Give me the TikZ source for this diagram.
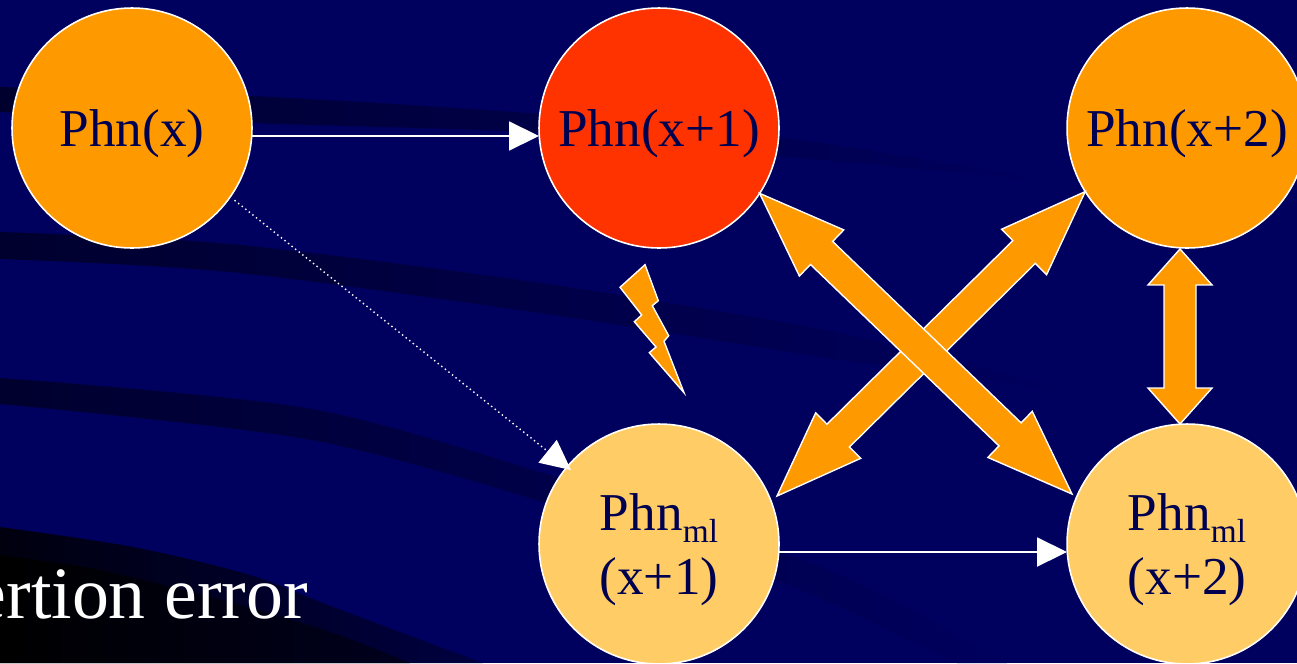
\documentclass[tikz,border=0pt]{standalone}
\usepackage{fontspec}
\setmainfont{Liberation Serif}
\usepackage{xcolor}
\usepackage{tikz}
\usetikzlibrary{arrows.meta, calc}

\definecolor{slidebg}{HTML}{00005E}
\definecolor{bandnavy}{HTML}{00002E}
\definecolor{bandleft}{HTML}{00000F}
\definecolor{bandright}{HTML}{000040}
\definecolor{banddeep}{HTML}{00001E}
\definecolor{phnink}{HTML}{000050}
\definecolor{phnorange}{HTML}{FF9900}
\definecolor{phnred}{HTML}{FF3300}
\definecolor{phnlight}{HTML}{FFCC66}

\tikzset{
  phnnode/.style={circle, draw=white, line width=0.9pt, minimum size=4.8cm, inner sep=0pt,
    outer sep=0pt, align=center, text=phnink, font=\fontsize{30.3}{36}\selectfont},
  oneline/.style={text height=27pt, text depth=5.4pt},
  thinarrow/.style={draw=white, line width=1.1pt, -{Triangle[length=0.6cm, width=0.58cm, fill=white]}},
  blockedge/.style={draw=white, line width=0.8pt, fill=phnorange, line join=miter},
  bolt/.style={draw=white, line width=0.8pt, fill=phnorange}
}

% double block arrow between two named points, option is the head length
\newcommand{\blockarrow}[3][1.72cm]{%
  \draw[blockedge] (#2)
    -- ($(#2)!#1!(#3)!0.64cm!90:(#3)$)
    -- ($(#2)!#1!(#3)!0.32cm!90:(#3)$)
    -- ($(#3)!#1!(#2)!0.32cm!-90:(#2)$)
    -- ($(#3)!#1!(#2)!0.64cm!-90:(#2)$)
    -- (#3)
    -- ($(#3)!#1!(#2)!0.64cm!90:(#2)$)
    -- ($(#3)!#1!(#2)!0.32cm!90:(#2)$)
    -- ($(#2)!#1!(#3)!0.32cm!-90:(#3)$)
    -- ($(#2)!#1!(#3)!0.64cm!-90:(#3)$)
    -- cycle;}

\newcommand{\mlsub}{\raisebox{-0.22em}{\fontsize{19}{19}\selectfont ml}}

\begin{document}
\begin{tikzpicture}[x=0.02cm, y=-0.02cm]
\useasboundingbox (0,0) rectangle (1297,663);
\clip (0,0) rectangle (1297,663);

% Background
\fill[slidebg] (0,0) rectangle (1297,663);
\shade[left color=bandnavy, middle color=bandnavy, right color=slidebg]
  plot[smooth] coordinates {(0,87) (252,96) (540,114) (800,140) (1060,182)}
  -- plot[smooth] coordinates {(800,158) (540,133) (252,123) (0,112)} -- cycle;
\shade[left color=bandnavy, middle color=bandnavy, right color=slidebg]
  plot[smooth] coordinates {(0,232) (230,244) (540,283) (840,333) (1070,392)}
  -- plot[smooth] coordinates {(840,360) (540,313) (230,272) (0,259)} -- cycle;
\shade[left color=bandnavy, middle color=bandnavy, right color=slidebg]
  plot[smooth] coordinates {(0,378) (306,408) (543,473) (793,557) (873,590) (1007,663)}
  -- plot[smooth] coordinates {(957,663) (873,623) (780,582) (543,502) (306,439) (0,404)} -- cycle;
\shade[left color=bandleft, right color=bandright]
  plot[smooth] coordinates {(0,527) (133,547) (250,575) (333,607) (483,663)} -- (0,663) -- cycle;
\shade[left color=black, right color=banddeep]
  plot[smooth] coordinates {(0,555) (100,570) (233,603) (333,633) (410,663)} -- (0,663) -- cycle;

% Phone nodes
\node[phnnode, oneline, fill=phnorange] (phnx) at (132,128) {Phn(x)};
\node[phnnode, oneline, fill=phnred] (phna) at (659,128) {Phn(x+1)};
\node[phnnode, oneline, fill=phnorange] (phnb) at (1187,128) {Phn(x+2)};
\node[phnnode, fill=phnlight] (mla) at (659,544) {\rule{0pt}{27.5pt}Phn\mlsub\\(x+1)};
\node[phnnode, fill=phnlight] (mlb) at (1187,544) {\rule{0pt}{27.5pt}Phn\mlsub\\(x+2)};

% Text
\node[anchor=base east, text=white, font=\fontsize{42}{42}\selectfont, inner sep=0pt] (errtext) at (308,618) {ertion error};

% Thin arrows
\draw[thinarrow] ($(phnx.east)+(0,8)$) -- ($(phna.west)+(0,8)$);
\draw[thinarrow] ($(mla.east)+(0,8)$) -- ($(mlb.west)+(0,8)$);
\draw[thinarrow, dash pattern=on 0.8pt off 1.8pt, line width=0.8pt, shorten <=0.11cm, shorten >=-0.1cm] (phnx.-35) -- (mla.140);

% Block arrows
\coordinate (tipb) at (777,496);
\blockarrow{phnb.212.9}{tipb}
\coordinate (tipa) at (1072,494);
\blockarrow{phna.-33.6}{tipa}
\coordinate (tipc) at ($(phnb.south)+(-7,1)$);
\coordinate (tipd) at ($(mlb.north)+(-7,0)$);
\blockarrow[0.72cm]{tipc}{tipd}

% Lightning
\draw[bolt] (645,264.7) -- (658.3,300.7) -- (652.3,305.7) -- (668.7,335.7) -- (664,341.3)
  -- (684,392.7) -- (649.3,352.7) -- (656,347) -- (634.3,321.7) -- (641.7,315) -- (620,287.3) -- cycle;

\end{tikzpicture}
\end{document}
